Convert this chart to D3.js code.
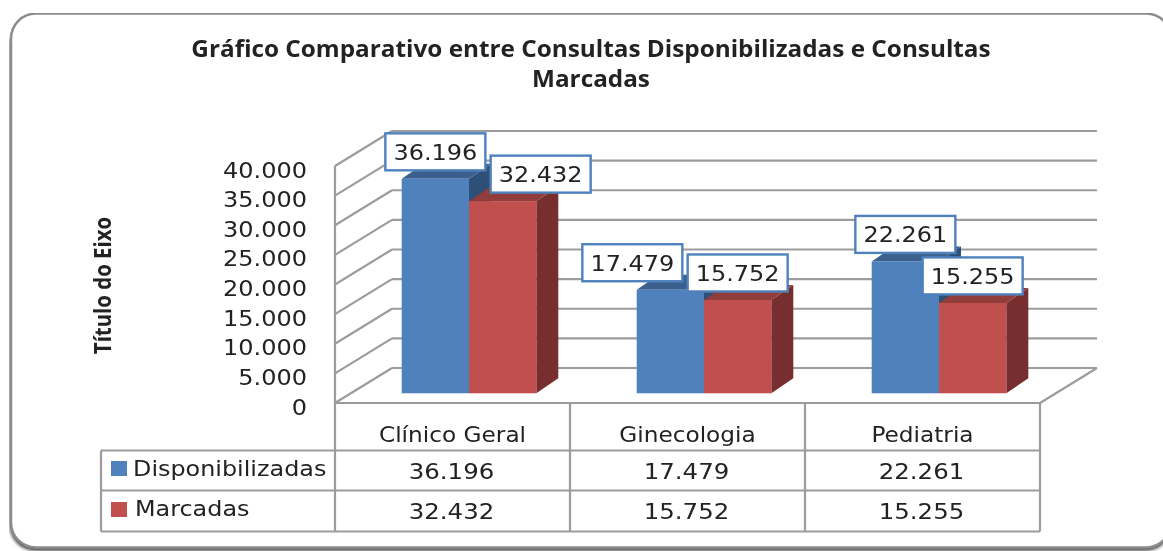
<!DOCTYPE html>
<html><head><meta charset="utf-8">
<script src="https://cdn.jsdelivr.net/npm/d3@7"></script>
<style>
html,body{margin:0;padding:0;background:#fff;overflow:hidden}
svg{display:block}
text{font-family:"DejaVu Sans",sans-serif;fill:#222}
</style></head><body><svg id="c" width="1163" height="551"></svg>
<script>
const titleLines=["Gráfico Comparativo entre Consultas Disponibilizadas e Consultas","Marcadas"];
const yTitle="Título do Eixo";
const categories=["Clínico Geral","Ginecologia","Pediatria"];
const seriesNames=["Disponibilizadas","Marcadas"];
const disponibilizadas=[36196,17479,22261];
const marcadas=[32432,15752,15255];
const seriesValues=[disponibilizadas,marcadas];
const yTicks=[0,5000,10000,15000,20000,25000,30000,35000,40000];
const colors=["#4f81bd","#c0504d"];
const topColors=["#3b618e","#903c3a"];
const sideColors=["#2f5078","#772f2e"];

const svg=d3.select("#c");
const defs=svg.append("defs");
const sh=defs.append("filter").attr("id","sh").attr("x","-5%").attr("y","-5%").attr("width","110%").attr("height","110%");
sh.append("feGaussianBlur").attr("stdDeviation",1.6);
const soft=defs.append("filter").attr("id","soft").attr("x",0).attr("y",0).attr("width","100%").attr("height","100%");
soft.append("feGaussianBlur").attr("stdDeviation",0.5);

// widen a text to mimic the horizontally stretched reference
const stretch=(sel,k)=>sel.each(function(){
  const len=this.getComputedTextLength();
  d3.select(this).attr("textLength",len*k).attr("lengthAdjust","spacingAndGlyphs");
});

const root=svg.append("g").attr("filter","url(#soft)");
root.append("rect").attr("x",9.5).attr("y",20).attr("width",1162).attr("height",531).attr("rx",26)
  .attr("fill","#555").attr("filter","url(#sh)");
root.append("rect").attr("x",11).attr("y",13.5).attr("width",1160).attr("height",534).attr("rx",25)
  .attr("fill","#fff").attr("stroke","#8c8c8c").attr("stroke-width",2.5);

const fmt=d3.formatLocale({decimal:",",thousands:".",grouping:[3],currency:["",""]}).format(",d");
const left=335,right=1040,floorY=403,depthX=57,depthY=35;
const x=d3.scaleBand().domain(categories).range([left,right]);
const y=d3.scaleLinear().domain([0,40000]).range([floorY,floorY-237]);
const barW=67.3,barBase=-9.7,barDX=16.5,bdx=22,bdy=15;
const bx=d3.scaleBand().domain(seriesNames).range([-barW,barW]);
const grid="#9c9c9c";

// walls
const gg=root.append("g").attr("stroke",grid).attr("stroke-width",2.2).attr("fill","none");
yTicks.forEach(t=>{
  const p=y(t);
  gg.append("line").attr("x1",left).attr("y1",p).attr("x2",left+depthX).attr("y2",p-depthY);
  gg.append("line").attr("x1",left+depthX).attr("y1",p-depthY).attr("x2",right+depthX).attr("y2",p-depthY);
});
gg.append("line").attr("x1",right).attr("y1",floorY).attr("x2",right+depthX).attr("y2",floorY-depthY);
gg.append("line").attr("x1",left).attr("y1",y(40000)).attr("x2",left).attr("y2",floorY);

// y axis
const ya=d3.axisLeft(y).tickValues(yTicks).tickFormat(fmt).tickSize(0).tickPadding(28);
const yg=root.append("g").attr("transform",`translate(${left},0)`).call(ya);
yg.select(".domain").remove();
yg.selectAll("text").attr("font-size",22).attr("dy","0.5em").style("font-family","'DejaVu Sans'").attr("fill","#222").call(stretch,1.09);

// bars
categories.forEach((c,i)=>{
  const cx=x(c)+x.bandwidth()/2+barDX;
  const base=floorY+barBase;
  [0,1].forEach(s=>{
    const v=seriesValues[s][i];
    const x0=cx+bx(seriesNames[s]),x1=x0+barW,top=y(v)+barBase;
    const g=root.append("g");
    g.append("polygon").attr("fill",sideColors[s]).attr("points",[[x1,top],[x1+bdx,top-bdy],[x1+bdx,base-bdy],[x1,base]].join(" "));
    g.append("polygon").attr("fill",topColors[s]).attr("points",[[x0,top],[x0+bdx,top-bdy],[x1+bdx,top-bdy],[x1,top]].join(" "));
    g.append("rect").attr("x",x0).attr("y",top).attr("width",barW).attr("height",base-top).attr("fill",colors[s]);
  });
});

// data labels: manual nudge per [category][series], as dragged in the original
const labelNudge=[[0,38],[-38,0],[0,0]];
const boxW=100,boxH=37;
categories.forEach((c,i)=>{
  const cx=x(c)+x.bandwidth()/2+barDX;
  [0,1].forEach(s=>{
    const v=seriesValues[s][i];
    const mid=cx+bx(seriesNames[s])+barW/2+labelNudge[i][s];
    const cy=y(v)+barBase-27;
    root.append("rect").attr("x",mid-boxW/2).attr("y",cy-boxH/2).attr("width",boxW).attr("height",boxH)
      .attr("fill","#fff").attr("stroke",colors[0]).attr("stroke-width",2.4);
    root.append("text").attr("x",mid).attr("y",cy+8).attr("text-anchor","middle").attr("font-size",22).text(fmt(v)).call(stretch,1.09);
  });
});

// data table
const rows=[450.5,490.5,531.5];
const tg=root.append("g").attr("stroke",grid).attr("stroke-width",2.2);
rows.forEach(r=>tg.append("line").attr("x1",101).attr("x2",right).attr("y1",r).attr("y2",r));
tg.append("line").attr("x1",101).attr("x2",101).attr("y1",rows[0]).attr("y2",rows[2]);
tg.append("line").attr("x1",left).attr("x2",right).attr("y1",floorY).attr("y2",floorY);
[left,...categories.map(c=>x(c)+x.bandwidth())].forEach(v=>
  tg.append("line").attr("x1",v).attr("x2",v).attr("y1",floorY).attr("y2",rows[2]));
categories.forEach((c,i)=>{
  const mx=x(c)+x.bandwidth()/2;
  root.append("text").attr("x",mx).attr("y",442).attr("text-anchor","middle").attr("font-size",21.5).text(c).call(stretch,1.08);
  [0,1].forEach(s=>root.append("text").attr("x",mx-1).attr("y",rows[s]+28).attr("text-anchor","middle").attr("font-size",22).text(fmt(seriesValues[s][i])).call(stretch,1.11));
});
seriesNames.forEach((n,s)=>{
  root.append("rect").attr("x",111).attr("y",rows[s]+10.5+s).attr("width",16).attr("height",15).attr("fill",colors[s]);
  root.append("text").attr("x",133+s*2).attr("y",rows[s]+25).attr("font-size",21.5).text(n).call(stretch,1.11);
});

// titles
titleLines.forEach((t,i)=>root.append("text").attr("x",591).attr("y",57+i*30).attr("text-anchor","middle")
  .attr("font-size",22.5).attr("font-weight","bold").style("font-family","'Open Sans'").attr("fill","#111").text(t).call(stretch,1.08));
root.append("text").attr("transform","translate(111,285.5) rotate(-90)").attr("text-anchor","middle")
  .attr("font-size",24).attr("font-weight","bold").style("font-family","'Open Sans'").attr("fill","#111").text(yTitle).call(stretch,0.85);
</script></body></html>
